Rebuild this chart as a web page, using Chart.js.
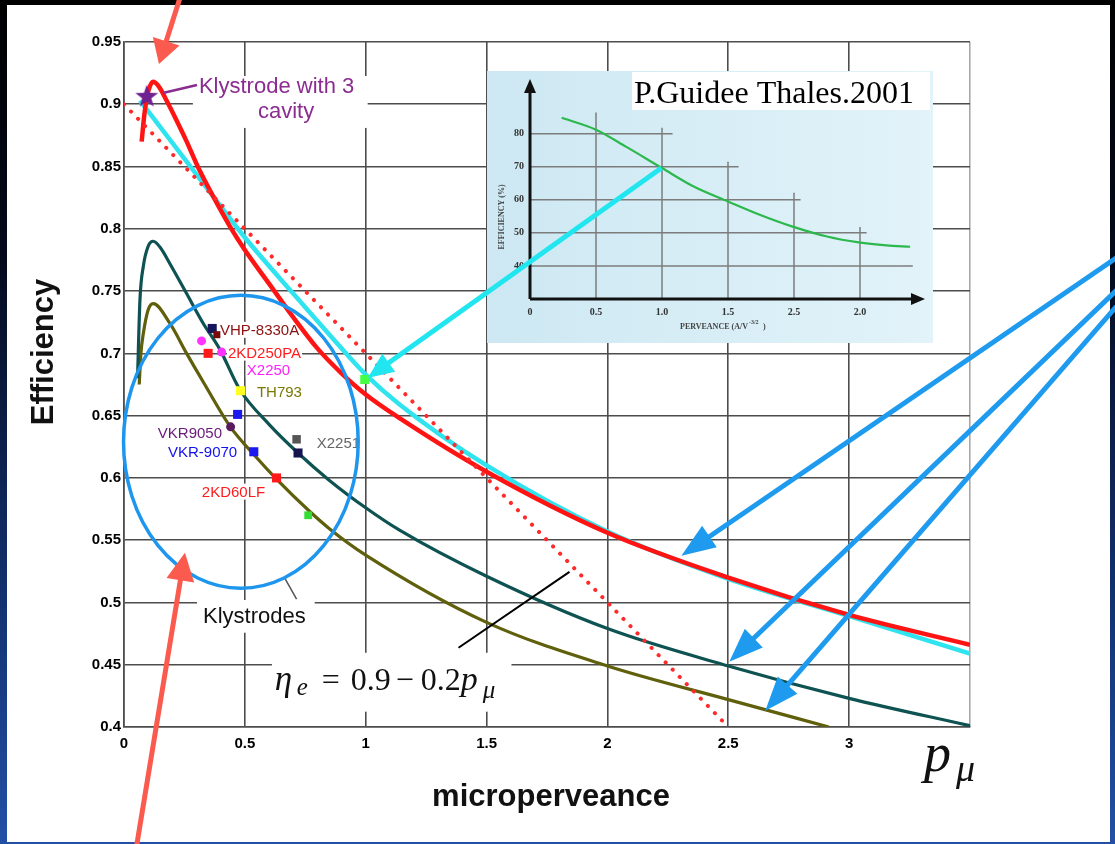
<!DOCTYPE html>
<html>
<head>
<meta charset="utf-8">
<script src="https://cdn.jsdelivr.net/npm/chart.js@4.4.1/dist/chart.umd.min.js"></script>
<style>
html,body{margin:0;padding:0;}
body{width:1115px;height:844px;overflow:hidden;position:relative;
  background:linear-gradient(to bottom,#000 0%,#040a1c 30%,#12306e 70%,#2350a6 100%);}
#sheet{position:absolute;left:7px;top:5px;width:1103px;height:837px;background:#fff;}
canvas{position:absolute;}
#main{left:0;top:0;}
#inset{left:487px;top:71px;}
#over{left:0;top:0;pointer-events:none;}
</style>
</head>
<body>
<div id="sheet"></div>
<canvas id="main" width="1115" height="844"></canvas>
<canvas id="inset" width="446" height="272"></canvas>
<canvas id="over" width="1115" height="844"></canvas>
<script>
// ---------------------
// Data: main chart
// ---------------------
const xTicks = [0, 0.5, 1, 1.5, 2, 2.5, 3, 3.5];
const xTickLabels = ['0', '0.5', '1', '1.5', '2', '2.5', '3', ''];
const yTicks = [0.4, 0.45, 0.5, 0.55, 0.6, 0.65, 0.7, 0.75, 0.8, 0.85, 0.9, 0.95];
const yTickLabels = ['0.4', '0.45', '0.5', '0.55', '0.6', '0.65', '0.7', '0.75', '0.8', '0.85', '0.9', '0.95'];

const redX = [0.073, 0.085, 0.1, 0.12, 0.145, 0.176, 0.215, 0.257, 0.31, 0.369, 0.438, 0.5, 0.6, 0.7, 0.8, 0.9, 1, 1.14, 1.5, 2, 2.5, 3, 3.5];
const redY = [0.870, 0.893, 0.910, 0.918, 0.914, 0.903, 0.888, 0.871, 0.848, 0.826, 0.802, 0.783, 0.756, 0.729, 0.704, 0.684, 0.667, 0.648, 0.605, 0.556, 0.520, 0.490, 0.466];

const cyanX = [0.066, 0.2, 0.369, 0.5, 0.7, 0.85, 1, 1.14, 1.5, 2, 2.5, 3, 3.5];
const cyanY = [0.903, 0.869, 0.826, 0.793, 0.748, 0.715, 0.683, 0.659, 0.610, 0.557, 0.519, 0.489, 0.459];

const tealX = [0.056, 0.066, 0.08, 0.1, 0.121, 0.15, 0.19, 0.259, 0.328, 0.397, 0.479, 0.6, 0.72, 0.85, 1, 1.14, 1.5, 2, 2.5, 3, 3.5];
const tealY = [0.680, 0.743, 0.770, 0.786, 0.790, 0.785, 0.772, 0.748, 0.724, 0.703, 0.671, 0.643, 0.620, 0.598, 0.576, 0.558, 0.521, 0.479, 0.449, 0.423, 0.401];

const oliveX = [0.063, 0.07, 0.08, 0.1, 0.121, 0.19, 0.259, 0.328, 0.44, 0.55, 0.631, 0.763, 0.851, 1, 1.5, 2, 2.5, 2.916];
const oliveY = [0.675, 0.700, 0.716, 0.735, 0.740, 0.724, 0.700, 0.677, 0.641, 0.616, 0.599, 0.574, 0.559, 0.538, 0.484, 0.449, 0.422, 0.400];

// eta_e = 0.9 - 0.2 p
const ruleX = [0, 2.5];
const ruleY = [0.9, 0.4];

// measured tubes
const tubeX = [0.365, 0.384, 0.321, 0.348, 0.404, 0.482, 0.470, 0.441, 0.537, 0.714, 0.720, 0.631, 0.762, 0.996];
const tubeY = [0.720, 0.715, 0.710, 0.700, 0.701, 0.670, 0.651, 0.641, 0.621, 0.631, 0.620, 0.600, 0.570, 0.679];

const starX = [0.094];
const starY = [0.906];

// ---------------------
// Data: inset (P.Guidee Thales 2001)
// ---------------------
const insetXTicks = [0, 0.5, 1, 1.5, 2, 2.5];
const insetXTickLabels = ['0', '0.5', '1.0', '1.5', '2.5', '2.0'];
const insetYTicks = [40, 50, 60, 70, 80];
const insetYTickLabels = ['40', '50', '60', '70', '80'];
const greenX = [0.24, 0.5, 0.73, 1.0, 1.24, 1.5, 1.74, 1.99, 2.25, 2.49, 2.7, 2.88];
const greenY = [84.8, 81.2, 76.0, 69.6, 64.0, 59.5, 55.5, 51.9, 48.9, 47.1, 46.2, 45.8];

// ---------------------
// Styles
// ---------------------
const SANS = "'Liberation Sans', Arial, sans-serif";
const SERIF = "'Liberation Serif', 'Times New Roman', serif";

const tubeColors = ['#16165c', '#7a0a0a', '#ff33ff', '#ff1a1a', '#ff33ff', '#ffff22', '#1a1aee', '#5a1a5e', '#1a1aee', '#555555', '#141450', '#ff1a1a', '#33dd33', '#44ff44'];
const tubeShapes = ['rect', 'rect', 'circle', 'rect', 'circle', 'rect', 'rect', 'circle', 'rect', 'rect', 'rect', 'rect', 'rect', 'rect'];
const tubeSizes = [6.4, 5, 4.5, 6.4, 4.5, 6.4, 6.4, 4.5, 6.4, 6, 6.4, 6.4, 5.5, 6.4];

const tubeLabels = [
    {t: 'VHP-8330A', x: 0.397, y: 0.7189, c: '#8b1010'},
    {t: '2KD250PA', x: 0.430, y: 0.7006, c: '#ff1c1c'},
    {t: 'X2250', x: 0.508, y: 0.6868, c: '#ff22ff'},
    {t: 'TH793', x: 0.550, y: 0.6693, c: '#7a7a00'},
    {t: 'VKR9050', x: 0.140, y: 0.6362, c: '#6a1a7a'},
    {t: 'VKR-9070', x: 0.182, y: 0.6209, c: '#1010ee'},
    {t: 'X2251', x: 0.7975, y: 0.6282, c: '#666666'},
    {t: '2KD60LF', x: 0.322, y: 0.5890, c: '#ff1c1c'}
];

// white boxes behind the big annotations (data coords: x1, y1, x2, y2)
const boxes = [
    [0.285, 0.9227, 1.008, 0.881],
    [0.302, 0.502, 0.789, 0.4757],
    [0.612, 0.4596, 1.603, 0.4123]
];

function P(chart, x, y) {
    return {x: chart.scales.x.getPixelForValue(x), y: chart.scales.y.getPixelForValue(y)};
}

function pts(xs, ys) {
    return xs.map((x, i) => ({x: x, y: ys[i]}));
}

function curve(xs, ys, color, width, order) {
    return {
        data: pts(xs, ys), showLine: true, borderColor: color, borderWidth: width,
        pointRadius: 0, cubicInterpolationMode: 'monotone', order: order, fill: false
    };
}

// purple star marker
const starImg = document.createElement('canvas');
starImg.width = 26; starImg.height = 26;
const sc = starImg.getContext('2d');
sc.fillStyle = '#6e2190';
sc.beginPath();
for (let i = 0; i < 10; i++) {
    const r = i % 2 ? 4.8 : 12;
    const a = -Math.PI / 2 + i * Math.PI / 5;
    sc.lineTo(13 + r * Math.cos(a), 13 + r * Math.sin(a));
}
sc.closePath();
sc.fill();

// ---------------------
// Annotations on main chart
// ---------------------
const annot = {
    id: 'annot',
    beforeDatasetsDraw(chart) {
        const ctx = chart.ctx;
        ctx.save();
        ctx.fillStyle = '#fff';
        boxes.forEach(b => {
            const p = P(chart, b[0], b[1]), q = P(chart, b[2], b[3]);
            ctx.fillRect(p.x, p.y, q.x - p.x, q.y - p.y);
        });
        ctx.font = '15px ' + SANS;
        tubeLabels.forEach(l => {
            const p = P(chart, l.x, l.y);
            const w = ctx.measureText(l.t).width;
            ctx.fillRect(p.x - 1, p.y - 8, w + 2, 16);
        });
        ctx.restore();
    },
    afterDatasetsDraw(chart) {
        const ctx = chart.ctx;
        ctx.save();

        // tube labels
        ctx.font = '15px ' + SANS;
        ctx.textBaseline = 'middle';
        ctx.textAlign = 'left';
        tubeLabels.forEach(l => {
            const p = P(chart, l.x, l.y);
            ctx.fillStyle = l.c;
            ctx.fillText(l.t, p.x, p.y + 1);
        });

        // Klystrode with 3 cavity
        let a = P(chart, 0.161, 0.909), b = P(chart, 0.302, 0.9155);
        ctx.strokeStyle = '#8b2c91';
        ctx.lineWidth = 2.5;
        ctx.beginPath(); ctx.moveTo(a.x, a.y); ctx.lineTo(b.x, b.y); ctx.stroke();
        ctx.fillStyle = '#8b2c91';
        ctx.font = '22px ' + SANS;
        ctx.textBaseline = 'alphabetic';
        let p = P(chart, 0.31, 0.909);
        ctx.fillText('Klystrode with 3', p.x, p.y);
        p = P(chart, 0.554, 0.889);
        ctx.fillText('cavity', p.x, p.y);

        // Klystrodes
        a = P(chart, 0.665, 0.5196); b = P(chart, 0.714, 0.5027);
        ctx.strokeStyle = '#555';
        ctx.lineWidth = 1.5;
        ctx.beginPath(); ctx.moveTo(a.x, a.y); ctx.lineTo(b.x, b.y); ctx.stroke();
        ctx.fillStyle = '#111';
        ctx.font = '22px ' + SANS;
        p = P(chart, 0.327, 0.4838);
        ctx.fillText('Klystrodes', p.x, p.y);

        // formula pointer
        a = P(chart, 1.384, 0.4636); b = P(chart, 1.843, 0.5246);
        ctx.strokeStyle = '#000';
        ctx.lineWidth = 2;
        ctx.beginPath(); ctx.moveTo(a.x, a.y); ctx.lineTo(b.x, b.y); ctx.stroke();

        // eta_e = 0.9 - 0.2 p_mu
        p = P(chart, 0.624, 0.430);
        ctx.fillStyle = '#111';
        const parts = [
            ['italic 35px ' + SERIF, '\u03B7', 0, 0],
            ['italic 25px ' + SERIF, 'e', 22, 5],
            ['32px ' + SERIF, '=', 47, 0],
            ['32px ' + SERIF, '0.9', 76, 0],
            ['32px ' + SERIF, '\u2212', 121, 0],
            ['32px ' + SERIF, '0.2', 146, 0],
            ['italic 34px ' + SERIF, 'p', 186, 0],
            ['italic 25px ' + SERIF, '\u03BC', 208, 8]
        ];
        parts.forEach(s => {
            ctx.font = s[0];
            ctx.fillText(s[1], p.x + s[2], p.y + s[3]);
        });

        // axis titles
        ctx.font = 'bold 31px ' + SANS;
        ctx.textAlign = 'center';
        ctx.fillText('microperveance', 551, 806);
        ctx.save();
        ctx.translate(53, 352);
        ctx.rotate(-Math.PI / 2);
        ctx.fillText('Efficiency', 0, 0);
        ctx.restore();

        // p_mu
        ctx.textAlign = 'left';
        ctx.font = 'italic 54px ' + SERIF;
        ctx.fillText('p', 924, 771);
        ctx.font = 'italic 38px ' + SERIF;
        ctx.fillText('\u03BC', 956, 781);

        ctx.restore();
    }
};

const tickFont = {family: SANS, size: 15, weight: 'bold'};

const mainChart = new Chart(document.getElementById('main'), {
    type: 'scatter',
    data: {
        datasets: [
            {data: pts(starX, starY), pointStyle: starImg, order: -1},
            {data: pts(tubeX, tubeY), pointStyle: tubeShapes, pointRadius: tubeSizes,
             pointBackgroundColor: tubeColors, pointBorderWidth: 0, order: 0},
            Object.assign(curve(ruleX, ruleY, '#ff2a2a', 4, 1),
                {borderDash: [0.1, 10], borderCapStyle: 'round', cubicInterpolationMode: 'default', tension: 0}),
            curve(redX, redY, '#ff1414', 4.5, 2),
            curve(cyanX, cyanY, '#2fe4ee', 4.5, 3),
            curve(tealX, tealY, '#0e5252', 3.2, 4),
            curve(oliveX, oliveY, '#5f5f0c', 3.2, 5)
        ]
    },
    options: {
        responsive: false,
        animation: false,
        devicePixelRatio: 1,
        events: [],
        layout: {padding: {left: 0, top: 42, right: 145, bottom: 77}},
        plugins: {legend: {display: false}, tooltip: {enabled: false}},
        scales: {
            x: {
                type: 'linear', min: 0, max: 3.5,
                afterBuildTicks: a => { a.ticks = xTicks.map(v => ({value: v})); },
                afterFit: s => { s.height = 40; },
                grid: {color: c => (c.tick && c.tick.value === 3.5) ? '#a8a8a8' : '#4d4d4d', lineWidth: 1.6, drawTicks: false},
                border: {display: true, color: '#4d4d4d', width: 1.6},
                ticks: {padding: 8, color: '#000', font: tickFont, maxRotation: 0, autoSkip: false,
                        callback: (v, i) => xTickLabels[i]}
            },
            y: {
                type: 'linear', min: 0.4, max: 0.95,
                afterBuildTicks: a => { a.ticks = yTicks.map(v => ({value: v})); },
                afterFit: s => { s.width = 124; },
                grid: {color: '#4d4d4d', lineWidth: 1.6, drawTicks: false},
                border: {display: true, color: '#4d4d4d', width: 1.6},
                ticks: {padding: 3, color: '#000', font: tickFont, autoSkip: false,
                        callback: (v, i) => yTickLabels[i]}
            }
        }
    },
    plugins: [annot]
});

// ---------------------
// Inset chart
// ---------------------
const gridH = [[80, 1.08], [70, 1.58], [60, 2.05], [50, 2.55], [40, 2.9]];
const gridV = [[0.5, 86.4], [1.0, 81.8], [1.5, 71.5], [2.0, 62.1], [2.5, 51.8]];

const insetDeco = {
    id: 'insetDeco',
    beforeDraw(chart) {
        const ctx = chart.ctx;
        ctx.save();
        const g = ctx.createLinearGradient(0, 0, 446, 0);
        g.addColorStop(0, '#cde8f3');
        g.addColorStop(1, '#e2f3f9');
        ctx.fillStyle = g;
        ctx.fillRect(0, 0, 446, 272);
        ctx.fillStyle = '#fff';
        ctx.fillRect(145, 1, 298, 38);
        ctx.restore();
    },
    beforeDatasetsDraw(chart) {
        const ctx = chart.ctx, xs = chart.scales.x, ys = chart.scales.y;
        ctx.save();
        ctx.strokeStyle = '#7c7c7c';
        ctx.lineWidth = 1.5;
        gridH.forEach(h => {
            const y = ys.getPixelForValue(h[0]);
            ctx.beginPath(); ctx.moveTo(xs.getPixelForValue(0), y); ctx.lineTo(xs.getPixelForValue(h[1]), y); ctx.stroke();
        });
        gridV.forEach(v => {
            const x = xs.getPixelForValue(v[0]);
            ctx.beginPath(); ctx.moveTo(x, ys.getPixelForValue(30)); ctx.lineTo(x, ys.getPixelForValue(v[1])); ctx.stroke();
        });
        // axes with arrows
        const x0 = xs.getPixelForValue(0), y0 = ys.getPixelForValue(30);
        ctx.strokeStyle = '#111';
        ctx.fillStyle = '#111';
        ctx.lineWidth = 3;
        ctx.beginPath(); ctx.moveTo(x0, y0); ctx.lineTo(x0, 18); ctx.stroke();
        ctx.beginPath(); ctx.moveTo(x0 - 6, 22); ctx.lineTo(x0, 8); ctx.lineTo(x0 + 6, 22); ctx.closePath(); ctx.fill();
        ctx.beginPath(); ctx.moveTo(x0, y0); ctx.lineTo(428, y0); ctx.stroke();
        ctx.beginPath(); ctx.moveTo(424, y0 - 6); ctx.lineTo(438, y0); ctx.lineTo(424, y0 + 6); ctx.closePath(); ctx.fill();
        ctx.restore();
    },
    afterDraw(chart) {
        const ctx = chart.ctx;
        ctx.save();
        ctx.fillStyle = '#000';
        ctx.font = '32px ' + SERIF;
        ctx.textBaseline = 'alphabetic';
        ctx.fillText('P.Guidee Thales.2001', 147, 32);
        ctx.fillStyle = '#444';
        ctx.font = 'bold 8px ' + SERIF;
        ctx.fillText('PERVEANCE (A/V', 193, 258);
        const w = ctx.measureText('PERVEANCE (A/V').width;
        ctx.font = 'bold 6px ' + SERIF;
        ctx.fillText('-3/2', 193 + w + 1, 253);
        ctx.font = 'bold 8px ' + SERIF;
        ctx.fillText(')', 193 + w + 15, 258);
        ctx.save();
        ctx.translate(17, 146);
        ctx.rotate(-Math.PI / 2);
        ctx.textAlign = 'center';
        ctx.fillText('EFFICIENCY (%)', 0, 0);
        ctx.restore();
        ctx.restore();
    }
};

const insetFont = {family: SERIF, size: 10, weight: 'bold'};

new Chart(document.getElementById('inset'), {
    type: 'scatter',
    data: {
        datasets: [curve(greenX, greenY, '#2cb84c', 2.2, 0)]
    },
    options: {
        responsive: false,
        animation: false,
        devicePixelRatio: 1,
        events: [],
        layout: {padding: {left: 0, top: 23, right: 7, bottom: 0}},
        plugins: {legend: {display: false}, tooltip: {enabled: false}},
        scales: {
            x: {
                type: 'linear', min: 0, max: 3,
                afterBuildTicks: a => { a.ticks = insetXTicks.map(v => ({value: v})); },
                afterFit: s => { s.height = 44; },
                grid: {display: false, drawTicks: false}, border: {display: false},
                ticks: {padding: 7, color: '#333', font: insetFont, maxRotation: 0, autoSkip: false,
                        callback: (v, i) => insetXTickLabels[i]}
            },
            y: {
                type: 'linear', min: 30, max: 92,
                afterBuildTicks: a => { a.ticks = insetYTicks.map(v => ({value: v})); },
                afterFit: s => { s.width = 43; },
                grid: {display: false, drawTicks: false}, border: {display: false},
                ticks: {padding: 6, color: '#333', font: insetFont, autoSkip: false,
                        callback: (v, i) => insetYTickLabels[i]}
            }
        }
    },
    plugins: [insetDeco]
});

// ---------------------
// Overlay: arrows and ellipse
// ---------------------
function arrow(ctx, a, b, color, w, hl, hw) {
    const dx = b.x - a.x, dy = b.y - a.y, L = Math.hypot(dx, dy), ux = dx / L, uy = dy / L;
    const bx = b.x - ux * hl, by = b.y - uy * hl;
    ctx.strokeStyle = color;
    ctx.lineWidth = w;
    ctx.beginPath(); ctx.moveTo(a.x, a.y); ctx.lineTo(bx + ux * 3, by + uy * 3); ctx.stroke();
    ctx.fillStyle = color;
    ctx.beginPath();
    ctx.moveTo(b.x, b.y);
    ctx.lineTo(bx - uy * hw / 2, by + ux * hw / 2);
    ctx.lineTo(bx + uy * hw / 2, by - ux * hw / 2);
    ctx.closePath();
    ctx.fill();
}

const arrows = [
    [[0.2355, 0.9878], [0.1446, 0.9323], '#fb5a4e', 5, 24, 28],
    [[0.0496, 0.3015], [0.252, 0.540], '#fb5a4e', 5, 28, 28],
    [[4.136, 0.7807], [2.306, 0.5375], '#1e9bef', 5, 34, 26],
    [[4.136, 0.7562], [2.504, 0.4524], '#1e9bef', 5, 34, 26],
    [[4.136, 0.7445], [2.653, 0.413], '#1e9bef', 5, 34, 26],
    [[2.223, 0.8489], [1.008, 0.6803], '#22e6ef', 5, 26, 22]
];

const ov = document.getElementById('over').getContext('2d');
const c0 = P(mainChart, 0.4835, 0.629);
const c1 = P(mainChart, 0.4835 + 0.4855, 0.629 - 0.1176);
ov.strokeStyle = '#1e96ee';
ov.lineWidth = 3.5;
ov.beginPath();
ov.ellipse(c0.x, c0.y, c1.x - c0.x, c1.y - c0.y, 0, 0, Math.PI * 2);
ov.stroke();
arrows.forEach(r => {
    arrow(ov, P(mainChart, r[0][0], r[0][1]), P(mainChart, r[1][0], r[1][1]), r[2], r[3], r[4], r[5]);
});
</script>
</body>
</html>
